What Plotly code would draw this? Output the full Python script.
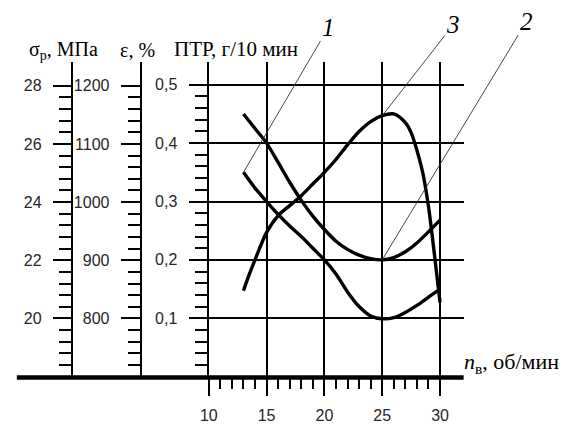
import plotly.graph_objects as go

# ---------------- data ----------------
n_12 = [13, 14, 15, 16, 17, 18, 19, 20, 21, 22, 23, 24, 25, 26, 27, 28, 29, 30]
ptr_curve1 = [0.350, 0.323, 0.300, 0.278, 0.258, 0.240, 0.220, 0.200, 0.176, 0.145,
              0.120, 0.104, 0.099, 0.101, 0.110, 0.122, 0.136, 0.150]
ptr_curve2 = [0.450, 0.425, 0.400, 0.367, 0.333, 0.302, 0.275, 0.252, 0.232, 0.218,
              0.208, 0.202, 0.200, 0.204, 0.214, 0.229, 0.248, 0.268]
n_3 = [13, 13.5, 14, 15, 16, 17, 18, 19, 20, 21, 22, 23, 24, 25, 26, 27, 27.5, 28,
       28.5, 29, 29.5, 30]
ptr_curve3 = [0.147, 0.175, 0.200, 0.247, 0.276, 0.293, 0.310, 0.330, 0.350, 0.372,
              0.397, 0.420, 0.437, 0.447, 0.450, 0.435, 0.418, 0.388, 0.350, 0.292,
              0.212, 0.127]

x_ticks = [10, 15, 20, 25, 30]
x_minor = [11, 12, 13, 14, 16, 17, 18, 19, 21, 22, 23, 24, 26, 27, 28, 29]
ptr_ticks = [0.1, 0.2, 0.3, 0.4, 0.5]
ptr_ticktext = ["0,1", "0,2", "0,3", "0,4", "0,5"]
sigma_ticks = [20, 22, 24, 26, 28]
eps_ticks = [800, 900, 1000, 1100, 1200]
curve_labels = ["1", "2", "3"]

# ---------------- geometry (pixels) ----------------
W, H = 565, 424
px_x10 = 203          # pixel of n = 10
px_right = 462        # right end of grid
px_base = 382         # baseline (PTR = 0)
px_top = 63           # top of grid
px_per_n = 11.75
px_per_ptr = 592.0

def fx(p):
    return p / W

def fy(p):
    return (H - p) / H

x_range = [10, 10 + (px_right - px_x10) / px_per_n]
y_range = [0, (px_base - px_top) / px_per_ptr]
sigma_range = [18, 18 + (px_base - px_top) / 29.5]
eps_range = [700, 700 + (px_base - px_top) / 0.59]

tickfont = dict(family="Arial, Liberation Sans, sans-serif", size=16, color="#262626")
serif = "Times New Roman, Liberation Serif, serif"
numfont = dict(family=serif, size=25, color="black")

LW = 2.4  # width of axis lines, ticks and grid

fig = go.Figure()

line_style = dict(color="black", width=3.4, shape="spline", smoothing=0.8)
fig.add_trace(go.Scatter(x=n_12, y=ptr_curve1, mode="lines", line=line_style,
                         showlegend=False, hoverinfo="skip"))
fig.add_trace(go.Scatter(x=n_12, y=ptr_curve2, mode="lines", line=line_style,
                         showlegend=False, hoverinfo="skip"))
fig.add_trace(go.Scatter(x=n_3, y=ptr_curve3, mode="lines", line=line_style,
                         showlegend=False, hoverinfo="skip"))
# carriers for the extra axes
fig.add_trace(go.Scatter(x=[10], y=[24], yaxis="y2", mode="markers", opacity=0,
                         showlegend=False, hoverinfo="skip"))
fig.add_trace(go.Scatter(x=[10], y=[1000], yaxis="y3", mode="markers", opacity=0,
                         showlegend=False, hoverinfo="skip"))


def minor(vals, ln):
    return dict(tickmode="array", tickvals=vals, ticks="outside",
                ticklen=ln, tickwidth=LW, tickcolor="black", showgrid=False)


fig.update_layout(
    width=W, height=H,
    margin=dict(l=0, r=0, t=0, b=0),
    paper_bgcolor="white", plot_bgcolor="white",
    xaxis=dict(
        domain=[fx(px_x10), fx(px_right)], range=x_range, anchor="y",
        showline=False, zeroline=False,
        tickmode="array", tickvals=x_ticks,
        ticks="outside", ticklen=18, tickwidth=LW, tickcolor="black",
        showgrid=True, gridcolor="black", gridwidth=LW,
        tickfont=tickfont, ticklabelstandoff=6,
        minor=minor(x_minor, 11),
    ),
    yaxis=dict(
        domain=[fy(px_base), fy(px_top)], range=y_range, anchor="x",
        showline=True, linecolor="black", linewidth=LW, zeroline=False,
        tickmode="array", tickvals=ptr_ticks, ticktext=ptr_ticktext,
        ticks="outside", ticklen=18, tickwidth=LW, tickcolor="black",
        showgrid=True, gridcolor="black", gridwidth=LW,
        tickfont=tickfont, ticklabelstandoff=8,
        minor=minor([0.02, 0.04, 0.06, 0.08, 0.12, 0.14, 0.16, 0.18,
                     0.22, 0.24, 0.26, 0.28, 0.32, 0.34, 0.36, 0.38,
                     0.42, 0.44, 0.46, 0.48], 12),
    ),
    yaxis2=dict(
        overlaying="y", anchor="free", position=fx(64), side="left",
        range=sigma_range, showline=True, linecolor="black", linewidth=LW,
        zeroline=False, showgrid=False,
        tickmode="array", tickvals=sigma_ticks,
        ticks="outside", ticklen=18, tickwidth=LW, tickcolor="black",
        tickfont=tickfont, ticklabelstandoff=8,
        minor=minor([18.4, 18.8, 19.2, 19.6, 20.4, 20.8, 21.2, 21.6,
                     22.4, 22.8, 23.2, 23.6, 24.4, 24.8, 25.2, 25.6,
                     26.4, 26.8, 27.2, 27.6], 12),
    ),
    yaxis3=dict(
        overlaying="y", anchor="free", position=fx(134), side="left",
        range=eps_range, showline=True, linecolor="black", linewidth=LW,
        zeroline=False, showgrid=False,
        tickmode="array", tickvals=eps_ticks,
        ticks="outside", ticklen=19, tickwidth=LW, tickcolor="black",
        tickfont=tickfont, ticklabelstandoff=8,
        minor=minor([720, 740, 760, 780, 820, 840, 860, 880, 920, 940,
                     960, 980, 1020, 1040, 1060, 1080, 1120, 1140, 1160, 1180], 12),
    ),
)

# baseline (n axis line) extended to the left edge
fig.add_shape(type="line", xref="paper", yref="paper", x0=fx(8), x1=fx(px_right),
              y0=fy(px_base + 1), y1=fy(px_base + 1),
              line=dict(color="black", width=4.5), layer="above")

# axis titles
titles = [
    ("σ<sub>р</sub>, МПа", 18, 51, 20),
    ("ε, %", 111, 51, 20),
    ("ПТР, г/10 мин", 166, 50, 21),
    ("<i>n</i><sub>в</sub>, об/мин", 460, 368, 22),
]
for txt, px, py, fs in titles:
    fig.add_annotation(text=txt, x=fx(px), y=fy(py), xref="paper", yref="paper",
                       xanchor="left", yanchor="middle", showarrow=False,
                       font=dict(family=serif, size=fs, color="black"))

# curve labels with leader lines
leaders = [
    (curve_labels[0], n_12[0], ptr_curve1[0], 85, -145),
    (curve_labels[1], n_12[12], ptr_curve2[12], 144, -238),
    (curve_labels[2], n_3[13], ptr_curve3[13], 71, -91),
]
for txt, hx, hy, ax, ay in leaders:
    fig.add_annotation(text="<i>%s</i>" % txt, x=hx, y=hy, xref="x", yref="y",
                       ax=ax, ay=ay, axref="pixel", ayref="pixel",
                       showarrow=True, arrowhead=0, arrowwidth=0.9, arrowcolor="#333",
                       standoff=0, font=numfont)

fig.write_html("out.html")
